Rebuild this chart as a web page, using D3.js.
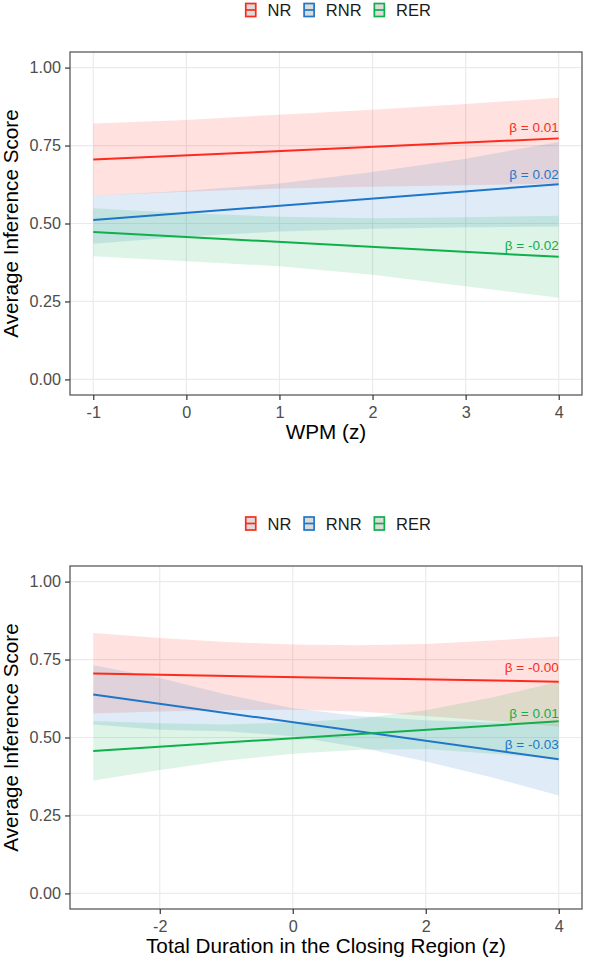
<!DOCTYPE html>
<html>
<head>
<meta charset="utf-8">
<script src="https://cdn.jsdelivr.net/npm/d3@7"></script>
<style>
  body { margin: 0; background: #fff; }
  svg { display: block; font-family: "Liberation Sans", Arial, sans-serif; }
</style>
</head>
<body>
<script>
// groups and colours
const groups = ["NR", "RNR", "RER"];
const colors = ["#FF2A1C", "#1F76C8", "#0FAF4C"];

// top panel: WPM (z)
const wpmTicks = [-1, 0, 1, 2, 3, 4];
const wpmBandX = [-1, 0, 1, 2, 3, 4];
const wpmLineX = [-1, 4];
const wpmFit = [[0.705, 0.773], [0.511, 0.626], [0.473, 0.393]];
const wpmUpper = [
  [0.821, 0.832, 0.849, 0.865, 0.883, 0.903],
  [0.589, 0.605, 0.628, 0.665, 0.708, 0.761],
  [0.549, 0.533, 0.522, 0.517, 0.520, 0.525]
];
const wpmLower = [
  [0.589, 0.602, 0.612, 0.618, 0.623, 0.628],
  [0.435, 0.458, 0.474, 0.483, 0.488, 0.490],
  [0.395, 0.379, 0.363, 0.336, 0.299, 0.262]
];
const wpmLabels = ["β = 0.01", "β = 0.02", "β = -0.02"];
const wpmLabelY = [0.793, 0.644, 0.414];

// bottom panel: total duration in closing region (z)
const durTicks = [-2, 0, 2, 4];
const durBandX = [-3, -2, -1, 0, 1, 2, 3, 4];
const durLineX = [-3, 4];
const durFit = [[0.705, 0.679], [0.638, 0.430], [0.457, 0.552]];
const durUpper = [
  [0.835, 0.819, 0.806, 0.798, 0.796, 0.800, 0.811, 0.824],
  [0.732, 0.691, 0.638, 0.594, 0.569, 0.555, 0.548, 0.545],
  [0.553, 0.546, 0.542, 0.548, 0.561, 0.587, 0.628, 0.679]
];
const durLower = [
  [0.577, 0.583, 0.587, 0.589, 0.583, 0.569, 0.553, 0.535],
  [0.542, 0.525, 0.520, 0.504, 0.469, 0.423, 0.372, 0.314],
  [0.362, 0.396, 0.426, 0.448, 0.461, 0.463, 0.448, 0.432]
];
const durLabels = ["β = -0.00", "β = -0.03", "β = 0.01"];
const durLabelY = [0.710, 0.463, 0.562];

const yTicks = [0, 0.25, 0.5, 0.75, 1];

const svg = d3.select("body").append("svg")
    .attr("width", 597)
    .attr("height", 962);

function drawPanel(p) {
  const x = d3.scaleLinear().domain(p.xDomain).range([70, 582]);
  const y = d3.scaleLinear().domain([-0.05, 1.05]).range([p.bottom, p.top]);

  // legend
  const leg = svg.append("g");
  let lx = 245;
  groups.forEach((name, i) => {
    leg.append("rect")
      .attr("x", lx + 0.75).attr("y", p.legendY - 6.5)
      .attr("width", 10).attr("height", 13)
      .attr("fill", "#dcdcdc")
      .attr("stroke", colors[i]).attr("stroke-width", 1.7);
    leg.append("line")
      .attr("x1", lx + 0.75).attr("x2", lx + 10.75)
      .attr("y1", p.legendY).attr("y2", p.legendY)
      .attr("stroke", colors[i]).attr("stroke-width", 1.7);
    const t = leg.append("text")
      .attr("x", lx + 22.5).attr("y", p.legendY + 6)
      .attr("font-size", 16.5).attr("fill", "#1a1a1a")
      .text(name);
    lx = lx + 22.5 + t.node().getComputedTextLength() + 12;
  });

  // grid
  svg.append("g").selectAll("line.gy")
    .data(yTicks).enter().append("line")
      .attr("x1", 70).attr("x2", 582)
      .attr("y1", d => y(d)).attr("y2", d => y(d))
      .attr("stroke", "#ebebeb").attr("stroke-width", 1.2);
  svg.append("g").selectAll("line.gx")
    .data(p.xTicks).enter().append("line")
      .attr("x1", d => x(d)).attr("x2", d => x(d))
      .attr("y1", p.top).attr("y2", p.bottom)
      .attr("stroke", "#ebebeb").attr("stroke-width", 1.2);

  // confidence bands
  const area = d3.area()
      .x(d => x(d.x))
      .y0(d => y(d.lo))
      .y1(d => y(d.hi));
  groups.forEach((name, i) => {
    const pts = p.bandX.map((v, j) => ({ x: v, lo: p.lower[i][j], hi: p.upper[i][j] }));
    svg.append("path")
      .datum(pts)
      .attr("d", area)
      .attr("fill", colors[i])
      .attr("fill-opacity", 0.14);
  });

  // fitted lines
  const line = d3.line().x(d => x(d[0])).y(d => y(d[1]));
  groups.forEach((name, i) => {
    svg.append("path")
      .datum(p.lineX.map((v, j) => [v, p.fit[i][j]]))
      .attr("d", line)
      .attr("fill", "none")
      .attr("stroke", colors[i])
      .attr("stroke-width", 2);
  });

  // beta labels
  groups.forEach((name, i) => {
    svg.append("text")
      .attr("x", x(p.lineX[1]))
      .attr("y", y(p.labelY[i]))
      .attr("text-anchor", "end")
      .attr("font-size", 13.5)
      .attr("fill", colors[i])
      .text(p.labels[i]);
  });

  // panel border
  svg.append("rect")
    .attr("x", 70).attr("y", p.top)
    .attr("width", 512).attr("height", p.bottom - p.top)
    .attr("fill", "none").attr("stroke", "#4d4d4d").attr("stroke-width", 1.2);

  // axes
  const xAxis = svg.append("g")
    .attr("transform", "translate(0," + p.bottom + ")")
    .call(d3.axisBottom(x).tickValues(p.xTicks).tickSize(5).tickPadding(6).tickFormat(d3.format("d")));
  const yAxis = svg.append("g")
    .attr("transform", "translate(70,0)")
    .call(d3.axisLeft(y).tickValues(yTicks).tickSize(5).tickPadding(4).tickFormat(d3.format(".2f")));
  [xAxis, yAxis].forEach(a => {
    a.select(".domain").remove();
    a.selectAll(".tick line").attr("stroke", "#333").attr("stroke-width", 1.2);
    a.selectAll(".tick text")
      .attr("fill", "#4d4d4d")
      .attr("font-size", 16.2)
      .attr("font-family", "Liberation Sans, Arial, sans-serif");
  });
  xAxis.selectAll(".tick text").text(d => d < 0 ? "-" + Math.abs(d) : d);

  // axis titles
  svg.append("text")
    .attr("x", 326)
    .attr("y", p.bottom + 44)
    .attr("text-anchor", "middle")
    .attr("font-size", 20.7)
    .attr("fill", "#000")
    .text(p.xTitle);
  svg.append("text")
    .attr("transform", "translate(18," + ((p.top + p.bottom) / 2) + ") rotate(-90)")
    .attr("text-anchor", "middle")
    .attr("font-size", 20.7)
    .attr("fill", "#000")
    .text("Average Inference Score");
}

drawPanel({
  top: 52, bottom: 395, legendY: 10,
  xDomain: [-1.25, 4.25], xTicks: wpmTicks, xTitle: "WPM (z)",
  bandX: wpmBandX, lineX: wpmLineX, fit: wpmFit,
  upper: wpmUpper, lower: wpmLower,
  labels: wpmLabels, labelY: wpmLabelY
});

drawPanel({
  top: 566, bottom: 909, legendY: 523.5,
  xDomain: [-3.35, 4.35], xTicks: durTicks, xTitle: "Total Duration in the Closing Region (z)",
  bandX: durBandX, lineX: durLineX, fit: durFit,
  upper: durUpper, lower: durLower,
  labels: durLabels, labelY: durLabelY
});
</script>
</body>
</html>
